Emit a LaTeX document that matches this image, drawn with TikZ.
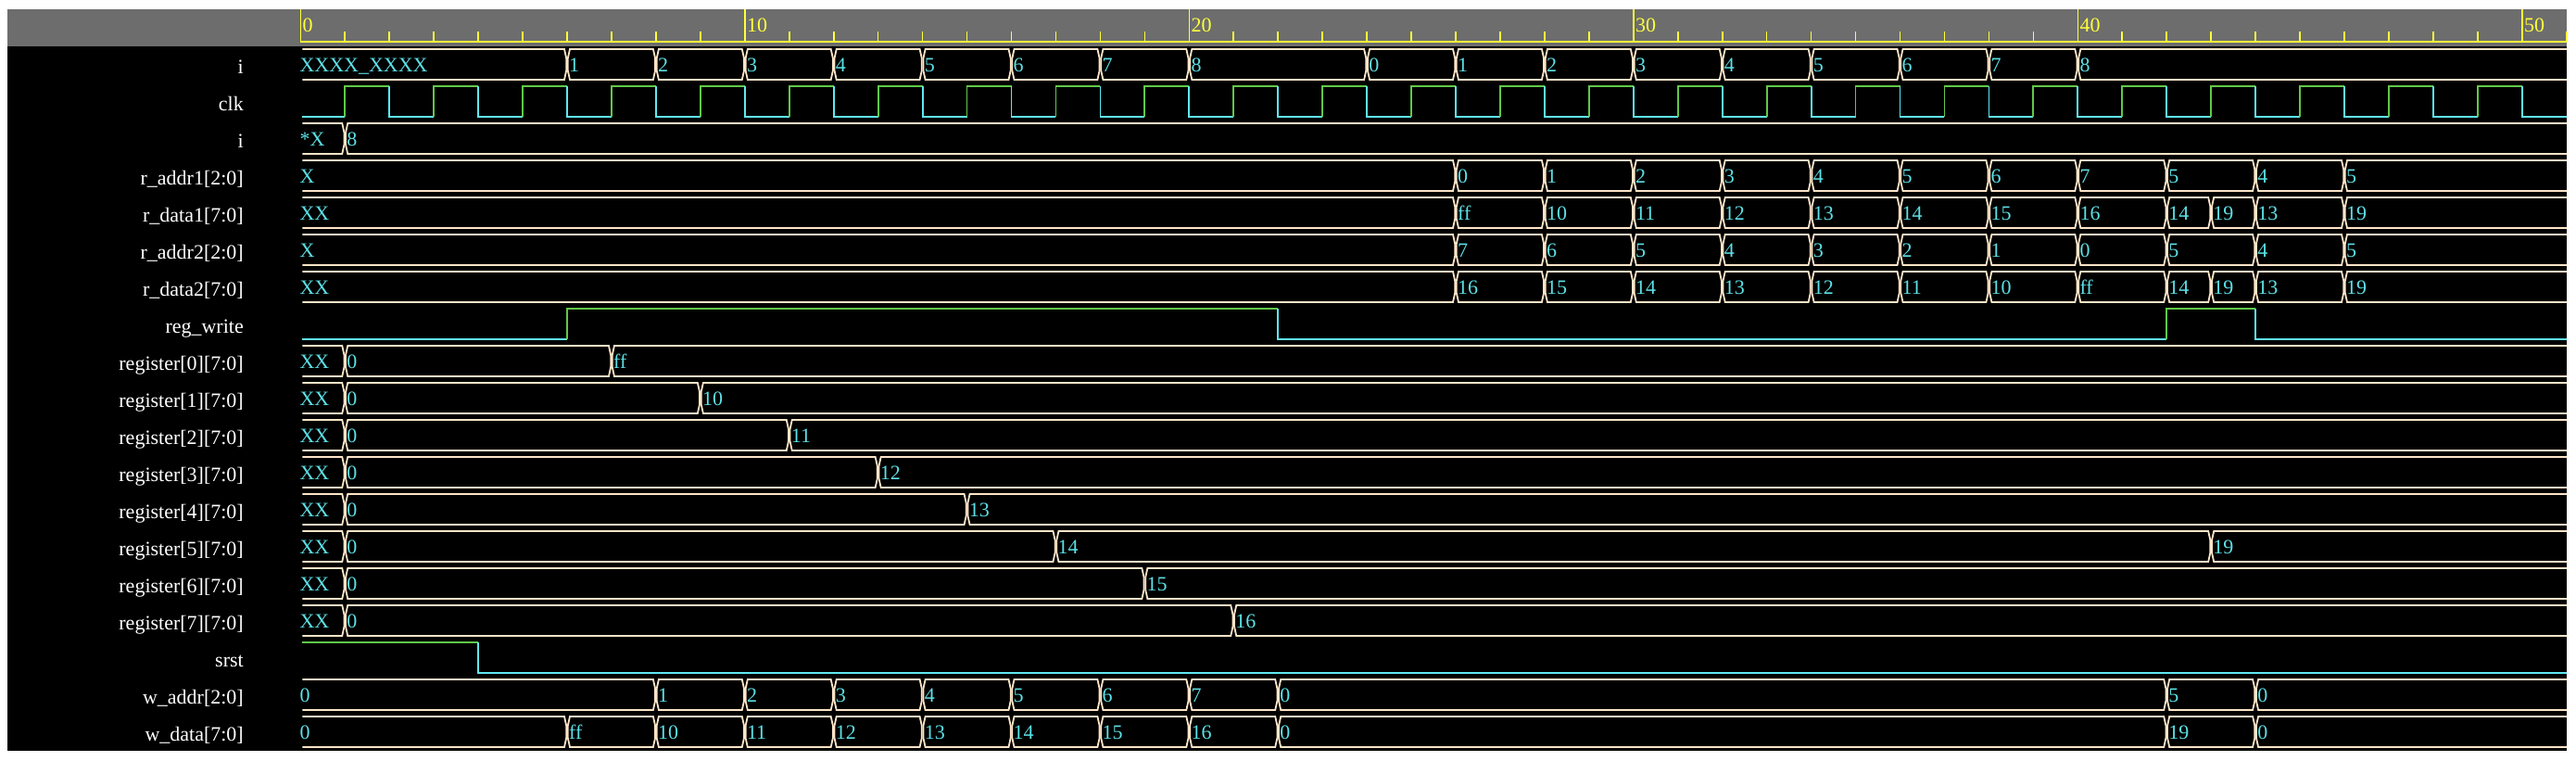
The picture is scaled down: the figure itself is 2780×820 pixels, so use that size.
\documentclass[tikz,border=0pt]{standalone}
\usepackage{fontspec}
\setmainfont{Liberation Serif}
\definecolor{hdrgray}{HTML}{6D6D6D}
\definecolor{axisyel}{HTML}{FFFF3C}
\definecolor{bustan}{HTML}{FDE5C8}
\definecolor{valcyan}{HTML}{5CE0E6}
\definecolor{locyan}{HTML}{5FE8F2}
\definecolor{higreen}{HTML}{60C848}
\pgfmathdeclarefunction{tx}{1}{\pgfmathparse{324.3+47.95*#1}}
\newcommand\wvrow[1]{\pgfmathsetmacro\wvT{53+40*#1}\pgfmathsetmacro\wvB{86+40*#1}}
% first segment: row, end time, value
\newcommand\wvfirst[3]{%
  \wvrow{#1}%
  \draw[wbus] ({tx(0)+2},\wvT) -- ({tx(#2)-3},\wvT) -- ({tx(#2)-0.8},\wvT+10) -- ({tx(#2)-0.8},\wvB-10) -- ({tx(#2)-3},\wvB) -- ({tx(0)+2},\wvB);
  \node[val] (v#1-0) at ({tx(0)-1},\wvT+24.5) {#3};
}
% middle segment: row, start, end, value
\newcommand\wvmid[4]{%
  \wvrow{#1}%
  \draw[wbus] ({tx(#2)+3},\wvT) -- ({tx(#3)-3},\wvT) -- ({tx(#3)-0.8},\wvT+10) -- ({tx(#3)-0.8},\wvB-10) -- ({tx(#3)-3},\wvB) -- ({tx(#2)+3},\wvB) -- ({tx(#2)+0.8},\wvB-10) -- ({tx(#2)+0.8},\wvT+10) -- cycle;
  \node[val] (v#1-#2) at ({tx(#2)+2},\wvT+24.5) {#4};
}
% last segment: row, start, value
\newcommand\wvlast[3]{%
  \wvrow{#1}%
  \draw[wbus] (2770,\wvT) -- ({tx(#2)+3},\wvT) -- ({tx(#2)+0.8},\wvT+10) -- ({tx(#2)+0.8},\wvB-10) -- ({tx(#2)+3},\wvB) -- (2770,\wvB);
  \node[val] (v#1-#2) at ({tx(#2)+2},\wvT+24.5) {#3};
}
\begin{document}
\begin{tikzpicture}[x=1pt,y=-1pt,
  wbus/.style={draw=bustan,line width=1.8pt},
  lvlhi/.style={draw=higreen,line width=1.8pt},
  lvllo/.style={draw=locyan,line width=1.8pt},
  axisline/.style={draw=axisyel,line width=1.6pt},
  val/.style={text=valcyan,font=\fontsize{22}{22}\selectfont,inner sep=0pt,anchor=base west},
  lbl/.style={text=white,font=\fontsize{22}{22}\selectfont,inner sep=0pt,anchor=base east},
  tlbl/.style={text=axisyel,font=\fontsize{22}{22}\selectfont,inner sep=0pt,anchor=base west}]
\useasboundingbox (0,0) rectangle (2780,820);
\fill[white] (0,0) rectangle (2780,820);
\fill[hdrgray] (8,10) rectangle (2770,50);
\fill[black] (8,50) rectangle (2770,810);
% time axis
\draw[axisline] ({tx(0)},45) -- (2770,45);
\foreach \m in {1,...,51} {\draw[axisline] ({tx(\m)},34) -- ({tx(\m)},45);}
\foreach \m in {0,10,...,50} {
  \draw[axisline] ({tx(\m)},10) -- ({tx(\m)},45);
  \node[tlbl] (tk\m) at ({tx(\m)+2},34) {\m};
}
% labels
\foreach \r/\s in {0/i,1/clk,2/i,3/{r\_addr1[2:0]},4/{r\_data1[7:0]},5/{r\_addr2[2:0]},6/{r\_data2[7:0]},7/{reg\_write},
  8/{register[0][7:0]},9/{register[1][7:0]},10/{register[2][7:0]},11/{register[3][7:0]},12/{register[4][7:0]},
  13/{register[5][7:0]},14/{register[6][7:0]},15/{register[7][7:0]},16/srst,17/{w\_addr[2:0]},18/{w\_data[7:0]}} {
  \node[lbl] (lbl\r) at (263,{79.5+40*\r}) {\s};
}
% row 0: i
\wvfirst{0}{6}{XXXX\_XXXX}
\foreach \a/\b/\v in {6/8/1,8/10/2,10/12/3,12/14/4,14/16/5,16/18/6,18/20/7,20/24/8,24/26/0,26/28/1,28/30/2,30/32/3,32/34/4,34/36/5,36/38/6,38/40/7} {\wvmid{0}{\a}{\b}{\v}}
\wvlast{0}{40}{8}
% row 1: clk
\draw[lvllo] ({tx(0)+2},126) -- ({tx(1)},126);
\foreach \k in {1,3,...,49} {
  \draw[lvlhi] ({tx(\k)},126) -- ({tx(\k)},93) -- ({tx(\k+1)},93);
  \draw[lvllo] ({tx(\k+1)},93) -- ({tx(\k+1)},126) -- ({tx(\k+2)},126);
}
% row 2: i
\wvfirst{2}{1}{*X}
\wvlast{2}{1}{8}
% row 3: r_addr1
\wvfirst{3}{26}{X}
\foreach \a/\b/\v in {26/28/0,28/30/1,30/32/2,32/34/3,34/36/4,36/38/5,38/40/6,40/42/7,42/44/5,44/46/4} {\wvmid{3}{\a}{\b}{\v}}
\wvlast{3}{46}{5}
% row 4: r_data1
\wvfirst{4}{26}{XX}
\foreach \a/\b/\v in {26/28/ff,28/30/10,30/32/11,32/34/12,34/36/13,36/38/14,38/40/15,40/42/16,42/43/14,43/44/19,44/46/13} {\wvmid{4}{\a}{\b}{\v}}
\wvlast{4}{46}{19}
% row 5: r_addr2
\wvfirst{5}{26}{X}
\foreach \a/\b/\v in {26/28/7,28/30/6,30/32/5,32/34/4,34/36/3,36/38/2,38/40/1,40/42/0,42/44/5,44/46/4} {\wvmid{5}{\a}{\b}{\v}}
\wvlast{5}{46}{5}
% row 6: r_data2
\wvfirst{6}{26}{XX}
\foreach \a/\b/\v in {26/28/16,28/30/15,30/32/14,32/34/13,34/36/12,36/38/11,38/40/10,40/42/ff,42/43/14,43/44/19,44/46/13} {\wvmid{6}{\a}{\b}{\v}}
\wvlast{6}{46}{19}
% row 7: reg_write
\draw[lvllo] ({tx(0)+2},366) -- ({tx(6)},366);
\draw[lvlhi] ({tx(6)},366) -- ({tx(6)},333) -- ({tx(22)},333);
\draw[lvllo] ({tx(22)},333) -- ({tx(22)},366) -- ({tx(42)},366);
\draw[lvlhi] ({tx(42)},366) -- ({tx(42)},333) -- ({tx(44)},333);
\draw[lvllo] ({tx(44)},333) -- ({tx(44)},366) -- (2770,366);
% rows 8-15: registers
\foreach \r/\e/\v in {8/7/ff,9/9/10,10/11/11,11/13/12,12/15/13,14/19/15,15/21/16} {
  \wvfirst{\r}{1}{XX}
  \wvmid{\r}{1}{\e}{0}
  \wvlast{\r}{\e}{\v}
}
\wvfirst{13}{1}{XX}
\wvmid{13}{1}{17}{0}
\wvmid{13}{17}{43}{14}
\wvlast{13}{43}{19}
% row 16: srst
\draw[lvlhi] ({tx(0)+2},693) -- ({tx(4)},693);
\draw[lvllo] ({tx(4)},693) -- ({tx(4)},726) -- (2770,726);
% row 17: w_addr
\wvfirst{17}{8}{0}
\foreach \a/\b/\v in {8/10/1,10/12/2,12/14/3,14/16/4,16/18/5,18/20/6,20/22/7,22/42/0,42/44/5} {\wvmid{17}{\a}{\b}{\v}}
\wvlast{17}{44}{0}
% row 18: w_data
\wvfirst{18}{6}{0}
\foreach \a/\b/\v in {6/8/ff,8/10/10,10/12/11,12/14/12,14/16/13,16/18/14,18/20/15,20/22/16,22/42/0,42/44/19} {\wvmid{18}{\a}{\b}{\v}}
\wvlast{18}{44}{0}
\end{tikzpicture}
\end{document}
